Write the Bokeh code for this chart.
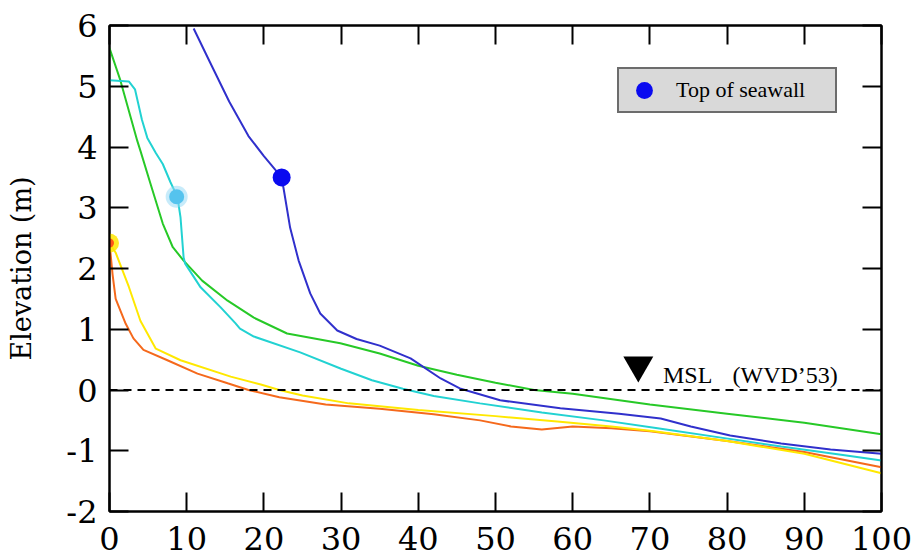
from bokeh.plotting import figure
from bokeh.models import Range1d, FixedTicker, LinearAxis, Span, Legend, LegendItem
from bokeh.core.properties import value
from bokeh.embed import file_html
from bokeh.resources import INLINE

# ---- data ----
x_ticks = [0, 10, 20, 30, 40, 50, 60, 70, 80, 90, 100]
y_ticks = [-2, -1, 0, 1, 2, 3, 4, 5, 6]
y_tick_labels = {-2: "-2", -1: "-1"}

blue_x = [10.9, 13, 15.5, 18, 20, 22.3, 22.6, 23.4, 24.5, 26, 27.3, 29.5, 32, 35, 39, 42.9, 45.5,
          50.6, 58.4, 66, 71.4, 75.3, 80.4, 87, 93.4, 100]
blue_y = [5.95, 5.4, 4.75, 4.18, 3.85, 3.5, 3.28, 2.67, 2.13, 1.59, 1.26, 0.98, 0.84, 0.73, 0.52, 0.19, 0.02,
          -0.17, -0.3, -0.39, -0.47, -0.6, -0.75, -0.88, -0.98, -1.05]

cyan_x = [0, 2.5, 3.3, 4.2, 4.9, 6.0, 6.9, 7.9, 8.8, 9.2, 9.6, 9.8, 11.8, 14.4, 16.3, 16.9, 18.7, 24.7,
          30, 34, 38, 42, 48, 56, 64, 71, 79, 87, 95, 100]
cyan_y = [5.1, 5.08, 4.95, 4.45, 4.15, 3.9, 3.72, 3.42, 3.18, 2.84, 2.18, 2.08, 1.69, 1.36, 1.1, 1.01, 0.88,
          0.62, 0.35, 0.16, 0.02, -0.1, -0.22, -0.37, -0.5, -0.63, -0.78, -0.93, -1.07, -1.16]

green_x = [0, 1.4, 3.6, 4.0, 5.3, 6.9, 8.2, 9.6, 12, 15.3, 18.7, 23, 29.9, 35, 40, 45, 50, 55, 60, 70,
           80, 90, 100]
green_y = [5.63, 5.1, 4.1, 3.94, 3.4, 2.74, 2.35, 2.13, 1.8, 1.47, 1.19, 0.93, 0.77, 0.6, 0.4, 0.25, 0.12,
           0.0, -0.06, -0.24, -0.39, -0.54, -0.73]

yellow_x = [0, 0.8, 2.5, 4, 6, 9.2, 15.7, 19.6, 22, 25, 31, 40, 50, 58, 65, 70, 80, 90, 100]
yellow_y = [2.42, 2.26, 1.7, 1.14, 0.68, 0.49, 0.22, 0.09, 0.0, -0.09, -0.22, -0.33, -0.43, -0.52, -0.6,
            -0.67, -0.84, -1.05, -1.37]

orange_x = [0, 0.4, 0.8, 2.1, 3.1, 4.4, 7.5, 11.4, 15.3, 18, 22, 28, 35, 42, 48, 52, 56, 60, 65, 70, 80,
            90, 100]
orange_y = [2.42, 1.9, 1.5, 1.09, 0.85, 0.66, 0.49, 0.27, 0.11, 0.0, -0.12, -0.24, -0.31, -0.4, -0.5,
            -0.6, -0.65, -0.6, -0.63, -0.68, -0.84, -1.02, -1.27]

# tops of seawall: blue, light blue, yellow/orange
seawall_x = [22.3, 8.7, 0.0]
seawall_y = [3.5, 3.18, 2.42]

msl_level = 0.0
msl_marker_x = [68.5]
msl_marker_y = [0.41]
msl_label_x = [71.7, 80.7]
msl_label_y = [0.03, 0.03]
msl_label = ["MSL", "(WVD\u201953)"]

# ---- figure ----
p = figure(width=914, height=556, x_range=Range1d(0, 100), y_range=Range1d(-2, 6),
           output_backend="svg", toolbar_location=None,
           min_border_left=109, min_border_right=33, min_border_top=25, min_border_bottom=45)
p.grid.visible = False
p.background_fill_color = "white"
p.border_fill_color = "white"
p.outline_line_color = "black"
p.outline_line_width = 2

TICK_FONT = "DejaVu Serif"

def style_axis(ax, ticks, labels=True):
    ax.ticker = FixedTicker(ticks=ticks)
    ax.axis_line_width = 2
    ax.axis_line_color = "black"
    ax.major_tick_in = 19
    ax.major_tick_out = 0
    ax.major_tick_line_width = 2
    ax.major_tick_line_color = "black"
    ax.minor_tick_line_color = None
    if labels:
        ax.major_label_text_font = TICK_FONT
        ax.major_label_text_font_size = "32px"
        ax.major_label_text_color = "black"
    else:
        ax.major_label_text_font_size = "1px"
        ax.major_label_text_color = None
        ax.major_label_standoff = 0

style_axis(p.xaxis[0], x_ticks)
p.xaxis[0].major_label_standoff = 15
style_axis(p.yaxis[0], y_ticks)
p.yaxis[0].major_label_overrides = y_tick_labels
p.yaxis[0].major_label_standoff = 12
p.yaxis[0].axis_label = "Elevation (m)"
p.yaxis[0].axis_label_text_font = "DejaVu Serif"
p.yaxis[0].axis_label_text_font_style = "normal"
p.yaxis[0].axis_label_text_font_size = "27px"
p.yaxis[0].axis_label_text_color = "black"
p.yaxis[0].axis_label_standoff = 26

top_axis = LinearAxis()
style_axis(top_axis, x_ticks, labels=False)
p.add_layout(top_axis, "above")
right_axis = LinearAxis()
style_axis(right_axis, y_ticks, labels=False)
p.add_layout(right_axis, "right")

# MSL dashed line
p.add_layout(Span(location=msl_level, dimension="width", line_color="black",
                  line_width=2, line_dash="8 6"))

# profiles
p.line(green_x, green_y, line_color="#27c927", line_width=2)
p.line(cyan_x, cyan_y, line_color="#22d2d2", line_width=2)
p.line(orange_x, orange_y, line_color="#f5691c", line_width=2)
p.line(yellow_x, yellow_y, line_color="#ffe800", line_width=2)
p.line(blue_x, blue_y, line_color="#3030cc", line_width=2)

# seawall top markers
r_blue = p.scatter(seawall_x[0:1], seawall_y[0:1], size=18, fill_color="#0a0af0", line_color=None)
p.scatter(seawall_x[1:2], seawall_y[1:2], size=22, fill_color="#8fd8f5", fill_alpha=0.5, line_color=None)
p.scatter(seawall_x[1:2], seawall_y[1:2], size=15, fill_color="#55c3ee", line_color=None)
p.scatter(seawall_x[2:3], seawall_y[2:3], size=19, fill_color="#ffe600", fill_alpha=0.85, line_color=None)
p.scatter(seawall_x[2:3], seawall_y[2:3], size=9, fill_color="#ff5518", line_color=None)

# MSL marker and label
p.scatter(msl_marker_x, msl_marker_y, marker="inverted_triangle", size=30, fill_color="black",
          line_color=None)
p.text(msl_label_x, msl_label_y, text=msl_label, text_font=value("Liberation Serif"),
       text_font_size="24px", text_baseline="bottom", text_align="left", text_color="black")

legend = Legend(items=[LegendItem(label="Top of seawall", renderers=[r_blue])],
                location=(508, 398), padding=0, spacing=0, margin=0,
                glyph_width=50, glyph_height=42, label_standoff=7, label_width=159, label_height=42,
                background_fill_color="#d9d9d9", background_fill_alpha=1.0,
                border_line_color="black", border_line_width=2,
                label_text_font="Liberation Serif", label_text_font_size="22px",
                label_text_color="black")
p.add_layout(legend)

open("out.html", "w").write(file_html(p, INLINE))
